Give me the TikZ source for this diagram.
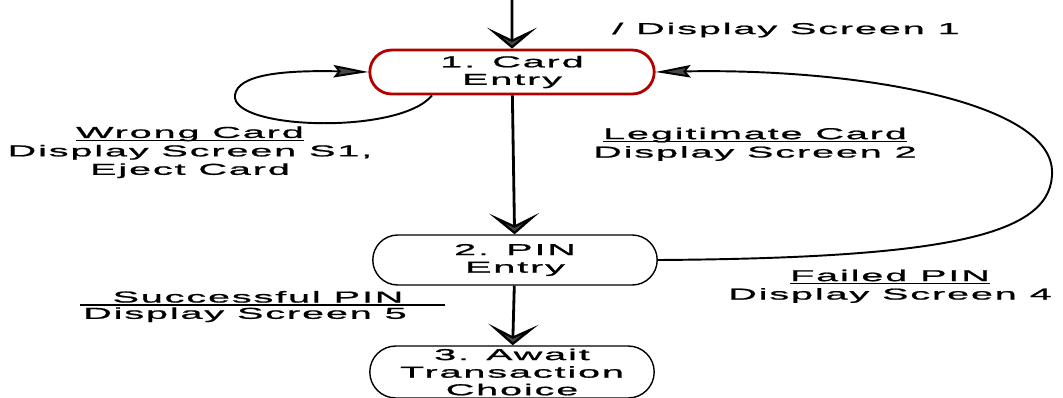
\documentclass[tikz,border=0pt]{standalone}
\usepackage{fontspec}
\newfontfamily\wideSans{Liberation Sans}[FakeStretch=2.5, LetterSpace=12, FakeBold=1.2]
\usepackage{tikz}
\usetikzlibrary{calc,shapes.misc,arrows.meta}
\newcommand{\evt}[1]{\underline{\smash{#1}}}

\begin{document}
\begin{tikzpicture}[x=0.02cm,y=-0.02cm,
    state/.style={draw,thick,rounded rectangle,inner sep=1pt,align=center,
        font=\wideSans\fontsize{9}{10}\selectfont,minimum width=5.76cm,minimum height=0.88cm},
    trans/.style={align=center,inner sep=0pt,font=\wideSans\fontsize{9}{10.5}\selectfont},
    bigarrow/.style={line width=1.6pt,-{Stealth[length=0.42cm,width=1cm,inset=0.24cm,fill=gray!55!black]}},
    looparrow/.style={line width=1.1pt,-{Stealth[length=0.7cm,width=0.25cm,inset=0.1cm,fill=gray!55!black]}}]
        \useasboundingbox (0,0) rectangle (1063,397);
        % states
        \node[state,draw=red!70!black,line width=1.6pt] (card) at (512,72) {1. Card\\Entry};
        \node[state,minimum height=1cm] (pin) at (515,260) {2. PIN\\Entry};
        \node[state,minimum height=1.04cm] (await) at (512,372) {3. Await\\Transaction\\Choice};
        \coordinate (start) at (512,0);
        % transitions
        \draw[bigarrow] (start) -- (card);
        \draw[bigarrow] (card) -- (pin);
        \draw[bigarrow] (pin) -- (await);
        \draw[looparrow] ([xshift=-80*0.02cm]card.south) .. controls (400,135) and (230,130) .. (235,95)
            .. controls (238,75) and (280,70) .. (card.west);
        \draw[looparrow] (pin.east) .. controls (950,258) and (1055,235) .. (1052,170)
            .. controls (1048,100) and (850,68) .. (card.east);
        % labels
        \node[trans] (lblone) at (786,30) {/ Display Screen 1};
        \node[trans] (lblwrong) at (190,158) {\evt{Wrong Card}\\Display Screen S1,\\Eject Card};
        \node[trans] (lbllegit) at (755,150) {\evt{Legitimate Card}\\Display Screen 2};
        \node[trans] (lblfail) at (890,292) {\evt{Failed PIN}\\Display Screen 4};
        \node[trans,anchor=south] (lblsucc) at (258,303) {Successful PIN};
        \node[trans,anchor=north] (lblscr) at (245,307) {Display Screen 5};
        \draw[line width=0.8pt] (80,305) -- (445,305);
\end{tikzpicture}
\end{document}
